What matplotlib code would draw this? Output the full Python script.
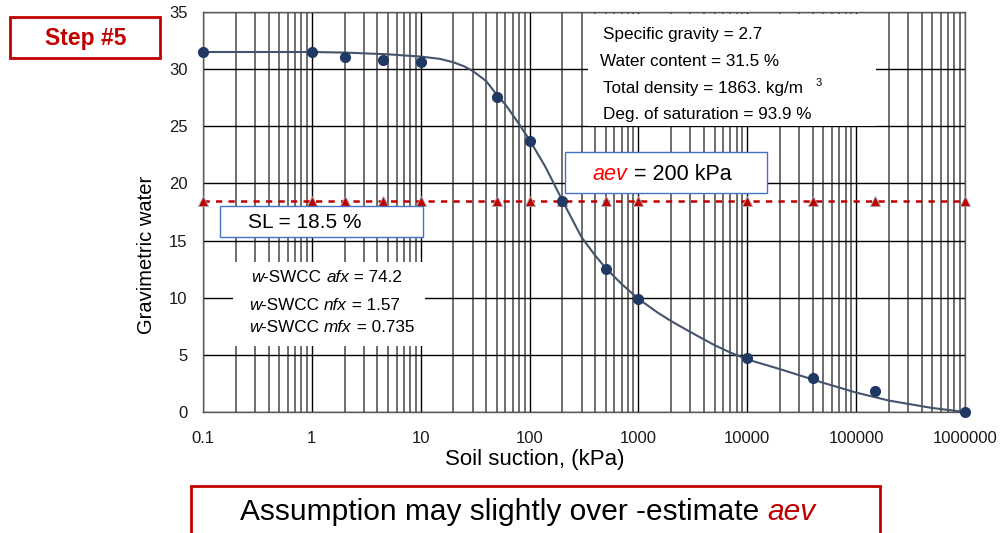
import matplotlib
matplotlib.use('Agg')
import matplotlib.pyplot as plt
from matplotlib.patches import Rectangle
from matplotlib.ticker import LogLocator, NullFormatter

plt.rcParams['font.family'] = ['Liberation Sans', 'DejaVu Sans']

# measured points
suction = [0.1, 1, 2, 4.5, 10, 50, 100, 200, 500, 1000, 10000, 40000, 150000, 1000000]
water = [31.5, 31.5, 31.05, 30.8, 30.6, 27.6, 23.7, 18.5, 12.5, 9.9, 4.7, 3.0, 1.8, 0.0]

# fitted w-SWCC curve
fit_suction = [0.1, 1, 2, 5, 7, 10, 15, 20, 25, 30, 40, 50, 60, 70, 80, 100, 137, 163, 200,
               300, 400, 500, 700, 1000, 1500, 2000, 3000, 5000, 7000, 10000, 20000,
               50000, 100000, 200000, 500000, 1000000]
fit_water = [31.5, 31.5, 31.45, 31.3, 31.2, 31.1, 30.9, 30.6, 30.25, 29.85, 28.95, 27.75,
             26.9, 26.0, 25.2, 23.8, 21.6, 20.2, 18.5, 15.3, 13.7, 12.6, 11.2, 9.9, 8.7,
             7.95, 7.0, 5.85, 5.2, 4.6, 3.75, 2.55, 1.7, 1.0, 0.35, 0.0]

shrink_limit = 18.5
xticks = [0.1, 1, 10, 100, 1000, 10000, 100000, 1000000]
xticklabels = ['0.1', '1', '10', '100', '1000', '10000', '100000', '1000000']

W, H = 1003, 533
fig = plt.figure(figsize=(W / 100, H / 100), dpi=100)
ax = fig.add_axes([203 / W, 1 - 412 / H, (965 - 203) / W, 400 / H])


def px(x, y):
    return x / W, 1 - y / H


ax.set_xscale('log')
ax.set_xlim(0.1, 1e6)
ax.set_ylim(0, 35)
ax.set_xticks(xticks)
ax.set_xticklabels(xticklabels)
ax.xaxis.set_minor_locator(LogLocator(base=10, subs=range(2, 10), numticks=20))
ax.xaxis.set_minor_formatter(NullFormatter())
ax.set_yticks(range(0, 36, 5))
ax.tick_params(axis='both', which='both', length=0, labelsize=12, colors='#1a1a1a')
ax.tick_params(axis='x', pad=14)
ax.tick_params(axis='y', pad=11)

ax.grid(True, which='major', axis='both', color='black', lw=1.0, zorder=0)
ax.grid(True, which='minor', axis='x', color='#6e6e6e', lw=1.4, zorder=0)
ax.set_axisbelow(True)
for s in ax.spines.values():
    s.set_color('#595959')
    s.set_linewidth(1.0)

# shrinkage limit line
ax.plot([0.1, 1e6], [shrink_limit, shrink_limit], color='#c00000', lw=1.8,
        ls=(0, (2.5, 2.5)), zorder=3, clip_on=False)
ax.plot(suction, [shrink_limit] * len(suction), ls='none', marker='^', ms=7,
        mfc='#c00000', mec='#a6a6a6', mew=0.6, zorder=4, clip_on=False)

ax.plot(fit_suction, fit_water, color='#44546a', lw=1.5, zorder=5, clip_on=False)
ax.plot(suction, water, ls='none', marker='o', ms=7, color='#1f3864', zorder=6, clip_on=False)

fig.text(*px(535, 460), 'Soil suction, (kPa)', fontsize=16, ha='center', va='center')
fig.text(*px(147, 255), 'Gravimetric water', rotation=90, fontsize=14.5,
         ha='center', va='center')

# Step box
fig.patches.append(Rectangle(px(10, 58), 150 / W, 41 / H, transform=fig.transFigure,
                             fill=False, ec='#c00000', lw=2))
fig.text(*px(86, 38), 'Step #5', color='#c00000', fontsize=16.5, fontweight='bold',
         ha='center', va='center')

# soil properties box
fig.patches.append(Rectangle(px(588, 126), 288 / W, 112 / H, transform=fig.transFigure,
                             fc='white', ec='none', zorder=2))
fs = 12.3
fig.text(*px(603, 35), 'Specific gravity = 2.7', fontsize=fs, va='center', zorder=3)
fig.text(*px(600, 62), 'Water content = 31.5 %', fontsize=fs, va='center', zorder=3)
fig.text(*px(603, 88), 'Total density = 1863. kg/m', fontsize=fs, va='center', zorder=3)
fig.text(*px(816, 83), '3', fontsize=8, va='center', zorder=3)
fig.text(*px(603, 114), 'Deg. of saturation = 93.9 %', fontsize=fs, va='center', zorder=3)

# parameters box
fig.patches.append(Rectangle(px(233, 346), 192 / W, 84 / H, transform=fig.transFigure,
                             fc='white', ec='none', zorder=2))
params = [('afx', '74.2', 277, 251), ('nfx', '1.57', 306, 249), ('mfx', '0.735', 328, 249)]
fig.canvas.draw()
renderer = fig.canvas.get_renderer()


def chain(x, y, parts, **kw):
    # draw text pieces one after another along a line
    for s, style, color in parts:
        t = fig.text(*px(x, y), s, style=style, color=color, va='center', zorder=3, **kw)
        bb = t.get_window_extent(renderer)
        x += bb.width


for name, val, y, x in params:
    chain(x, y, [('w', 'italic', 'black'), ('-SWCC ', 'normal', 'black'),
                 (name, 'italic', 'black'), (' = ' + val, 'normal', 'black')], fontsize=12.3)

# aev box
fig.patches.append(Rectangle(px(565, 193), 202 / W, 41 / H, transform=fig.transFigure,
                             fc='white', ec='#4472c4', lw=1, zorder=2))
chain(593, 174, [('aev', 'italic', '#ff0000'), (' = 200 kPa', 'normal', 'black')], fontsize=15.5)

# SL box
fig.patches.append(Rectangle(px(220, 237), 203 / W, 31 / H, transform=fig.transFigure,
                             fc='white', ec='#4472c4', lw=1, zorder=2))
fig.text(*px(248, 223), 'SL = 18.5 %', fontsize=15, va='center', zorder=3)

# bottom note
fig.patches.append(Rectangle(px(191, 540), 689 / W, 54 / H, transform=fig.transFigure,
                             fill=False, ec='#c00000', lw=2, clip_on=False))
chain(240, 512, [('Assumption may slightly over -estimate ', 'normal', 'black'),
                 ('aev', 'italic', '#c00000')], fontsize=21.5)

fig.savefig('out.png', dpi=100)
